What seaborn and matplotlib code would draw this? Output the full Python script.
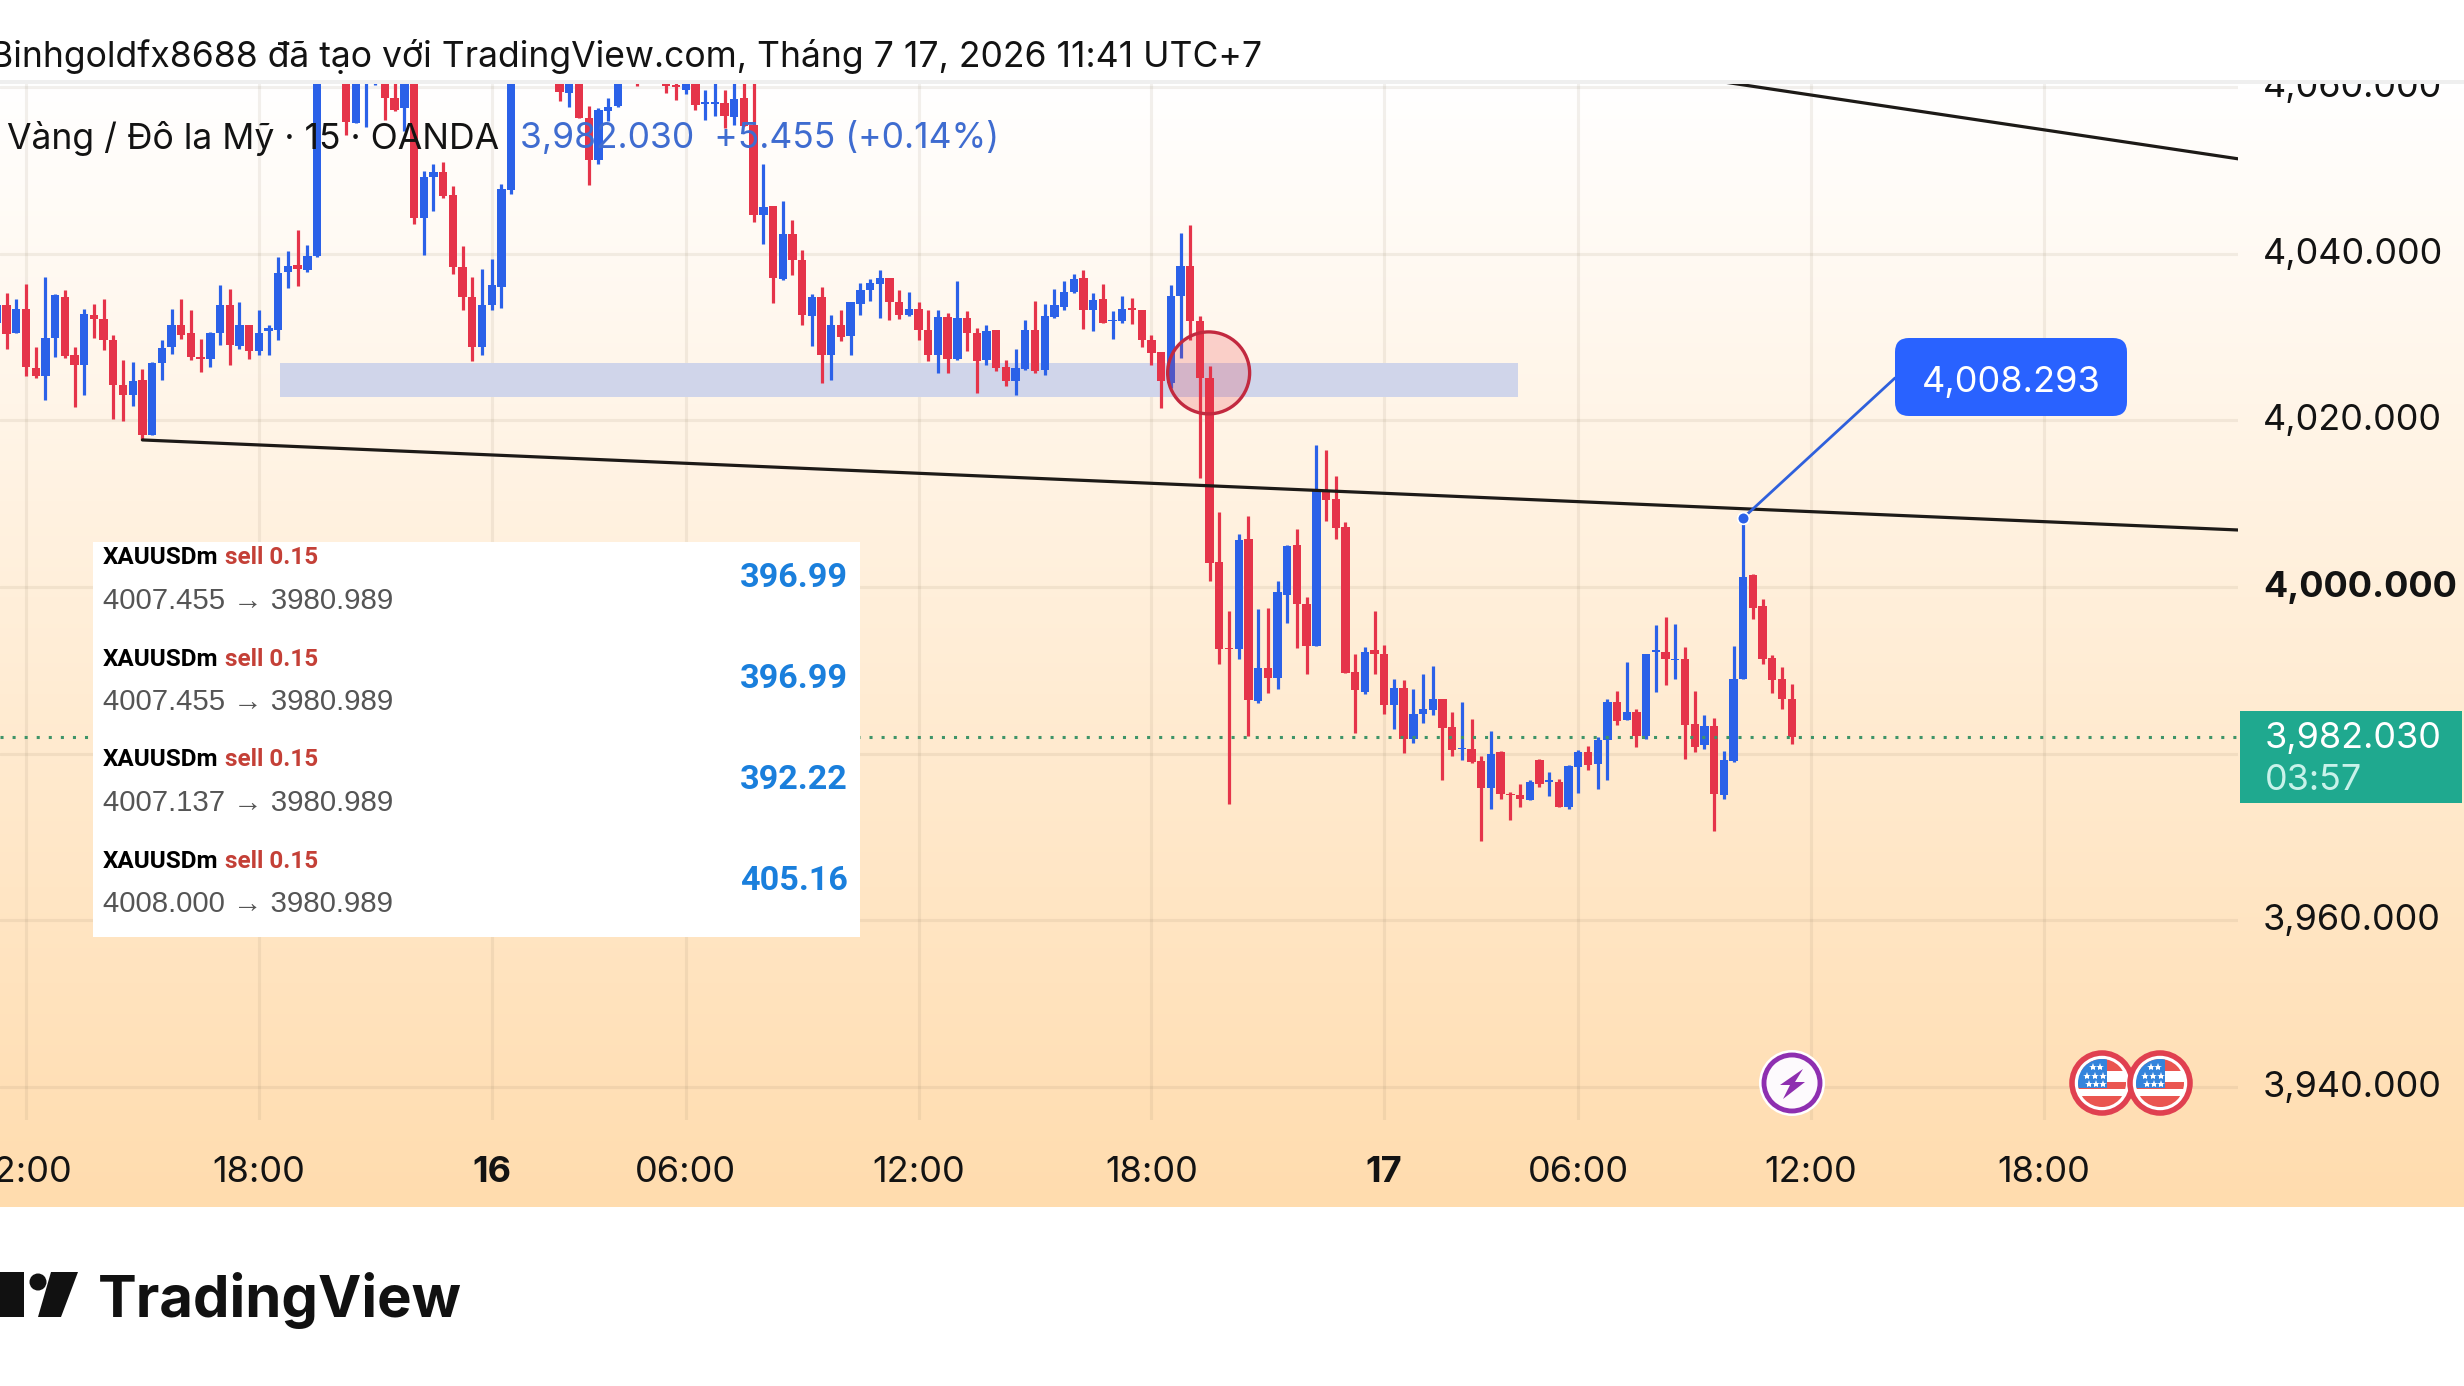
import numpy as np
import pandas as pd
import matplotlib
matplotlib.use("Agg")
import matplotlib.pyplot as plt
import seaborn as sns
from matplotlib.colors import LinearSegmentedColormap
from matplotlib.patches import Circle, Ellipse, FancyBboxPatch, Polygon, Rectangle
from matplotlib.transforms import ScaledTranslation

# 15 minute bars, XAUUSD (bars above the pane top are estimates)
highs = [
    4035.3, 4035.3, 4034.6, 4036.4, 4028.8, 4037.2, 4035.2, 4035.7, 4028.8, 4033.4,
    4034.0, 4034.6, 4030.2, 4027.3, 4027.0, 4026.2, 4027.0, 4029.6, 4033.4, 4034.6,
    4033.2, 4029.8, 4030.6, 4036.3, 4035.8, 4034.2, 4031.5, 4033.2, 4031.4, 4039.6,
    4040.3, 4042.9, 4041.1, 4070, 4075, 4076, 4071, 4071, 4067, 4068,
    4064, 4062, 4063, 4064, 4049.9, 4050.8, 4051.0, 4048.1, 4040.9, 4037.2,
    4038.2, 4039.4, 4048.4, 4063, 4066, 4070, 4070, 4068, 4063, 4063,
    4063, 4057.7, 4057.5, 4058.7, 4064, 4064, 4065, 4064, 4065, 4063,
    4062, 4062, 4061.5, 4059.7, 4062, 4059.6, 4062, 4062.5, 4062.5, 4050.8,
    4045.7, 4046.3, 4044.1, 4040.4, 4035.2, 4036.0, 4032.7, 4033.3, 4034.2, 4036.5,
    4037.0, 4038.1, 4037.1, 4035.7, 4035.4, 4034.2, 4033.3, 4033.3, 4032.9, 4036.7,
    4033.1, 4031.1, 4031.5, 4030.9, 4027.3, 4028.6, 4032.0, 4034.3, 4034.0, 4035.8,
    4036.7, 4037.6, 4038.1, 4035.3, 4036.4, 4033.1, 4034.9, 4034.7, 4033.3, 4030.3,
    4028.2, 4036.2, 4042.5, 4043.5, 4032.5, 4026.5, 4009.0, 3997.1, 4006.3, 4008.5,
    3997.3, 3997.5, 4000.7, 4005.0, 4006.9, 3998.8, 4017.1, 4016.5, 4013.3, 4007.8,
    3991.9, 3992.8, 3997.1, 3993.0, 3988.9, 3988.8, 3987.7, 3989.5, 3990.5, 3986.5,
    3985.0, 3986.2, 3984.1, 3979.7, 3982.7, 3980.3, 3975.4, 3976.4, 3976.8, 3979.3,
    3977.8, 3977.0, 3978.6, 3980.4, 3980.9, 3982.0, 3986.6, 3987.5, 3991.0, 3985.3,
    3992.0, 3995.4, 3996.4, 3995.6, 3992.8, 3987.5, 3984.6, 3984.3, 3980.3, 3992.9,
    4008.293, 4001.6, 3998.6, 3991.8, 3990.4, 3988.4,
]
body_tops = [
    4033.9, 4033.8, 4033.4, 4033.4, 4026.3, 4029.9, 4035.0, 4034.8, 4027.8, 4032.8,
    4032.7, 4032.2, 4029.7, 4024.2, 4024.7, 4024.9, 4026.9, 4028.7, 4031.5, 4031.5,
    4030.5, 4027.6, 4030.5, 4033.9, 4033.9, 4031.4, 4031.4, 4030.5, 4031.1, 4037.7,
    4038.5, 4038.6, 4039.7, 4069, 4074, 4074, 4070, 4070, 4066, 4066,
    4062.5, 4058.7, 4062.5, 4063, 4049.2, 4049.8, 4049.8, 4047.1, 4038.4, 4034.8,
    4033.9, 4036.2, 4047.8, 4062, 4065, 4068, 4068, 4066, 4062.5, 4062.5,
    4062, 4056.3, 4057.3, 4057.6, 4063, 4063, 4064, 4063, 4064, 4062,
    4060.3, 4060.5, 4060.5, 4058.2, 4058.2, 4058.1, 4058.6, 4058.7, 4055.4, 4045.6,
    4045.7, 4042.4, 4042.4, 4039.3, 4034.8, 4034.8, 4031.5, 4031.5, 4034.2, 4035.7,
    4036.5, 4037.1, 4037.1, 4034.2, 4033.4, 4033.4, 4030.9, 4032.4, 4032.4, 4032.3,
    4032.3, 4030.5, 4030.7, 4030.8, 4026.4, 4026.3, 4030.9, 4030.9, 4032.5, 4033.8,
    4035.4, 4037.0, 4037.1, 4034.5, 4034.6, 4032.1, 4033.4, 4033.5, 4033.3, 4029.7,
    4028.2, 4034.9, 4038.5, 4038.5, 4031.9, 4025.1, 4003.0, 3992.7, 4005.6, 4005.7,
    3990.3, 3990.3, 3999.4, 4004.9, 4005.0, 3997.9, 4011.7, 4011.7, 4010.5, 4007.2,
    3989.8, 3992.2, 3992.4, 3992.0, 3987.9, 3987.9, 3984.7, 3985.3, 3986.5, 3986.5,
    3983.2, 3980.7, 3980.5, 3979.1, 3980.0, 3980.2, 3975.2, 3975.0, 3976.6, 3979.2,
    3976.8, 3976.6, 3978.5, 3980.2, 3980.2, 3981.6, 3986.2, 3986.2, 3985.0, 3985.0,
    3992.0, 3992.4, 3992.2, 3991.4, 3991.3, 3983.6, 3983.3, 3983.3, 3979.2, 3988.9,
    4001.2, 4001.4, 3997.7, 3991.5, 3988.9, 3986.5,
]
body_bottoms = [
    4031.7, 4030.4, 4030.5, 4026.4, 4025.3, 4025.3, 4029.9, 4027.7, 4026.7, 4026.7,
    4032.2, 4029.6, 4024.2, 4023.1, 4023.1, 4018.2, 4018.2, 4026.9, 4028.8, 4030.3,
    4027.6, 4027.4, 4027.4, 4030.5, 4029.1, 4028.9, 4028.3, 4028.3, 4030.7, 4030.8,
    4037.8, 4038.2, 4038.1, 4039.7, 4068, 4070, 4055.8, 4055.7, 4062, 4062,
    4058.7, 4057.3, 4057.5, 4044.3, 4044.3, 4049.2, 4046.9, 4038.4, 4034.8, 4028.8,
    4028.8, 4033.9, 4036.0, 4047.6, 4061, 4064, 4065, 4063, 4059.4, 4059.3,
    4056.3, 4051.2, 4051.2, 4057.1, 4057.7, 4061.5, 4062, 4062, 4062, 4060.1,
    4060.0, 4059.6, 4057.9, 4058.0, 4058.0, 4056.5, 4056.4, 4055.3, 4044.6, 4044.6,
    4037.1, 4037.0, 4039.2, 4032.7, 4032.5, 4027.8, 4027.8, 4030.0, 4030.1, 4034.0,
    4035.6, 4036.4, 4034.2, 4032.7, 4032.7, 4030.9, 4027.9, 4027.9, 4027.4, 4027.4,
    4030.5, 4027.1, 4027.3, 4026.3, 4024.7, 4024.7, 4026.2, 4025.9, 4026.0, 4032.4,
    4033.6, 4035.4, 4033.3, 4033.3, 4031.7, 4031.9, 4031.9, 4033.2, 4029.6, 4028.1,
    4024.7, 4024.5, 4034.9, 4031.9, 4025.1, 4002.9, 3992.5, 3992.5, 3992.5, 3986.4,
    3986.3, 3989.1, 3989.1, 3999.0, 3997.9, 3992.9, 3992.9, 4010.4, 4007.1, 3989.7,
    3987.6, 3987.4, 3992.0, 3985.8, 3985.8, 3981.8, 3981.8, 3984.7, 3985.2, 3983.1,
    3980.4, 3980.5, 3979.0, 3975.9, 3975.9, 3975.2, 3975.0, 3974.5, 3974.4, 3976.3,
    3976.6, 3973.6, 3973.6, 3978.4, 3978.6, 3978.7, 3981.6, 3983.9, 3984.0, 3982.1,
    3982.1, 3992.2, 3991.3, 3991.2, 3983.4, 3980.8, 3981.0, 3975.1, 3975.0, 3979.1,
    3988.9, 3997.5, 3991.4, 3988.8, 3986.5, 3982.03,
]
lows = [
    4031.3, 4028.6, 4030.5, 4025.3, 4025.1, 4022.4, 4027.6, 4027.5, 4021.6, 4023.0,
    4029.9, 4028.4, 4020.2, 4019.9, 4021.7, 4017.6, 4018.2, 4024.9, 4028.0, 4029.8,
    4027.2, 4025.8, 4026.4, 4029.0, 4026.7, 4028.6, 4027.4, 4027.9, 4027.9, 4029.6,
    4035.9, 4036.1, 4037.8, 4039.6, 4066, 4068, 4054.2, 4055.7, 4055.2, 4060.3,
    4056.1, 4057.1, 4054.7, 4043.6, 4039.8, 4045.1, 4046.7, 4037.6, 4033.2, 4027.1,
    4027.8, 4033.2, 4033.5, 4047.2, 4060.6, 4062, 4063, 4061.5, 4058.3, 4057.6,
    4056.3, 4048.2, 4050.8, 4055.9, 4057.6, 4060.6, 4060.1, 4060.7, 4061, 4059.3,
    4058.4, 4059.2, 4057.3, 4056.0, 4056.5, 4055.1, 4055.4, 4055.3, 4043.8, 4041.2,
    4034.1, 4036.9, 4037.5, 4031.5, 4028.9, 4024.5, 4024.9, 4029.5, 4027.9, 4032.6,
    4034.3, 4032.3, 4032.1, 4032.2, 4032.5, 4029.6, 4027.1, 4025.7, 4025.7, 4027.2,
    4028.3, 4023.3, 4026.7, 4025.9, 4024.1, 4023.1, 4026.1, 4025.7, 4025.5, 4032.3,
    4033.3, 4035.3, 4031.0, 4030.7, 4031.7, 4029.8, 4031.7, 4031.6, 4028.8, 4026.7,
    4021.5, 4023.9, 4027.5, 4029.7, 4013.1, 4000.7, 3990.7, 3973.9, 3991.4, 3982.1,
    3986.1, 3987.3, 3987.8, 3995.7, 3992.7, 3989.6, 3992.9, 4007.9, 4005.7, 3989.7,
    3982.5, 3987.2, 3989.5, 3984.7, 3983.0, 3980.1, 3981.3, 3983.7, 3984.6, 3976.8,
    3979.7, 3979.2, 3978.9, 3969.5, 3973.3, 3974.6, 3972.0, 3973.6, 3974.4, 3976.0,
    3974.9, 3973.6, 3973.4, 3975.3, 3978.0, 3975.8, 3976.8, 3983.4, 3984.0, 3980.8,
    3981.8, 3987.4, 3988.2, 3989.0, 3979.4, 3980.2, 3980.5, 3970.7, 3974.6, 3979.0,
    3988.9, 3996.1, 3990.8, 3987.3, 3985.3, 3981.2,
]
directions = list(
    "BRBRRBBRRB" "RRRRBRBBBR" "RRBBRBRBBB" "BRBBBRRBBB" "RRBRBBRRRR"
    "BBBBRBRRRB" "RRBBBBRBRR" "RBRBBRBRRB" "RBRRBRBRBB" "BBRRBRRBRB"
    "RRBRRBBRBB" "BBRBRBBRRR" "RBBRRRRRBR" "BRBBRRBRRR" "RBRRBRBBBR"
    "RBRRBRRRBR" "BRBBRBBRBR" "BBRBRRBRBB" "BRRRRR"
)
bar_numbers = list(range(-1, 185))

time_ticks = [2, 26, 50, 70, 94, 118, 142, 162, 186, 210]
time_labels = ["12:00", "18:00", "16", "06:00", "12:00", "18:00", "17", "06:00", "12:00", "18:00"]
bold_times = ["16", "17"]
price_ticks = [3940, 3960, 3980, 4000, 4020, 4040, 4060]
price_labels = ["3,940.000", "3,960.000", "", "4,000.000", "4,020.000", "4,040.000", "4,060.000"]

last_price = 3982.03
callout_price = 4008.293
callout_bar = 179
zone_bars = [28.2, 155.8]
zone_prices = [4022.86, 4026.86]
support_bars = [14, 230]
support_prices = [4017.65, 4006.84]
upper_bars = [175.4, 230]
upper_prices = [4060.9, 4051.4]

trade_lines = ["4007.455 → 3980.989", "4007.455 → 3980.989", "4007.137 → 3980.989", "4008.000 → 3980.989"]
trade_profits = ["396.99", "396.99", "392.22", "405.16"]

RED = "#e5344a"
BLUE = "#2b61e8"
FONT = "Inter"

sns.set_theme(style="white")
plt.rcParams["font.family"] = [FONT, "DejaVu Sans"]
plt.rcParams["text.color"] = "#131313"

fig = plt.figure(figsize=(24.64, 13.86), dpi=100, facecolor="white")
W, H = 2464, 1386

# background gradient
bg = fig.add_axes([0, (H - 1207) / H, 1, (1207 - 84) / H], zorder=0)
cmap = LinearSegmentedColormap.from_list("tv", ["#ffffff", "#ffdcae"])
bg.imshow(np.linspace(0, 1, 256).reshape(-1, 1), aspect="auto", cmap=cmap)
bg.axis("off")

ax = fig.add_axes([0, (H - 1120) / H, 2238 / W, (1120 - 84) / H], zorder=1)
ax.patch.set_alpha(0)

candles = pd.DataFrame({
    "bar": bar_numbers, "high": highs, "low": lows,
    "top": body_tops, "bottom": body_bottoms, "dir": directions,
})
candles["body"] = candles["top"] - candles["bottom"]

ax.fill_between(zone_bars, zone_prices[0], zone_prices[1], color="#d0d5ea", lw=0, zorder=1.5)

for code, color in [("B", BLUE), ("R", RED)]:
    part = candles[candles["dir"] == code]
    ax.vlines(part["bar"], part["low"], part["high"], color=color, lw=2.3, zorder=2)
    sns.barplot(data=part, x="bar", y="body", bottom=part["bottom"].values, native_scale=True,
                color=color, saturation=1, width=0.86, errorbar=None, linewidth=0, zorder=2.1, ax=ax)

lines = pd.DataFrame({
    "bar": support_bars + upper_bars,
    "price": support_prices + upper_prices,
    "name": ["support", "support", "upper", "upper"],
})
sns.lineplot(data=lines, x="bar", y="price", units="name", estimator=None, color="#1d1a17",
             linewidth=2.3, sort=False, zorder=3, ax=ax)

ax.axhline(last_price, color="#3f9468", lw=2.2, ls=(0, (1, 2.95)), zorder=2.5)
ax.add_patch(Ellipse((123.9, 4025.7), 8.45, 9.84, facecolor=(0.91, 0.2, 0.25, 0.2),
                     edgecolor="#c2293f", lw=2.4, zorder=3.5))

# callout line and dot
ax.annotate("", xy=(callout_bar, callout_price), xytext=(1895, H - 378), textcoords="figure pixels",
            arrowprops=dict(arrowstyle="-", color="#2f60dc", lw=2.0, shrinkA=0, shrinkB=0), zorder=4)
sns.scatterplot(x=[callout_bar], y=[callout_price], color=BLUE, s=70, edgecolor="white",
                linewidth=1.2, zorder=5, clip_on=False, ax=ax)

ax.set_xlim(-0.68, 230.0)
ax.set_ylim(3936.01, 4060.38)
ax.set_xlabel("")
ax.set_ylabel("")
ax.set_xticks(time_ticks)
ax.set_xticklabels(time_labels)
ax.set_yticks(price_ticks)
ax.set_yticklabels(price_labels)
ax.yaxis.tick_right()
ax.tick_params(axis="x", length=0, pad=26, labelsize=26, labelcolor="#131313")
ax.tick_params(axis="y", length=0, pad=18, labelsize=25.9, labelcolor="#131313")
for lab in ax.get_xticklabels():
    if lab.get_text() in bold_times:
        lab.set_fontweight("bold")
up3 = ScaledTranslation(0, 3 / 100, fig.dpi_scale_trans)
for lab in ax.get_yticklabels():
    lab.set_transform(lab.get_transform() + up3)
    if lab.get_text() == "4,000.000":
        lab.set_fontweight("bold")
ax.grid(True, color="#8a7a60", alpha=0.11, lw=2.2)
ax.set_axisbelow(True)
sns.despine(ax=ax, left=True, bottom=True, right=True, top=True)

# overlay in figure pixels for the non-data furniture
ov = fig.add_axes([0, 0, 1, 1], zorder=2)
ov.set_xlim(0, W)
ov.set_ylim(H, 0)
ov.axis("off")

ov.add_patch(Rectangle((0, 0), W, 84, color="white", lw=0))
ov.add_patch(Rectangle((0, 80), W, 4, color="#efefef", lw=0))
ov.text(1262, 56, "Binhgoldfx8688 đã tạo với TradingView.com, Tháng 7 17, 2026 11:41 UTC+7",
        ha="right", va="center", fontsize=25.6, color="#131313")
ov.text(7, 138, "Vàng / Đô la Mỹ · 15 · OANDA", ha="left", va="center", fontsize=25.6, color="#131313")
ov.text(520, 138, "3,982.030  +5.455 (+0.14%)", ha="left", va="center", fontsize=25.5, color="#3f6cd0")

# trades panel
ov.add_patch(Rectangle((93, 542), 767, 395, color="white", lw=0))
for i in range(4):
    dy = 101 * i
    ov.text(103, 558 + dy, "XAUUSDm", family="Roboto", weight="bold", fontsize=17.5, color="black", va="center")
    ov.text(225, 558 + dy, "sell 0.15", family="Roboto", weight="bold", fontsize=17.5, color="#c44037", va="center")
    ov.text(103, 601 + dy, trade_lines[i], family=["Liberation Sans", "DejaVu Sans"], fontsize=21.2,
            color="#555555", va="center")
    ov.text(848, 578 + dy, trade_profits[i], family="Roboto", weight="bold", fontsize=24.6, color="#1a7fdc",
            ha="right", va="center")

# callout box
ov.add_patch(FancyBboxPatch((1905, 348), 212, 58, boxstyle="round,pad=10,rounding_size=14",
                            facecolor="#2962ff", edgecolor="none"))
ov.text(2011, 382, "4,008.293", color="white", fontsize=26, ha="center", va="center")

# last price tag
ov.add_patch(Rectangle((2240, 711), 222, 92, color="#1fa98f", lw=0))
ov.text(2265, 738, "3,982.030", color="white", fontsize=25.9, va="center")
ov.text(2265, 780, "03:57", color="#c8f2ea", fontsize=25.9, va="center")

# event icons
ov.add_patch(Circle((1792, 1083), 33, facecolor="white", edgecolor="none"))
ov.add_patch(Circle((1792, 1083), 28, facecolor="#fdfafd", edgecolor="#8e2fb0", lw=3.5))
ov.add_patch(Polygon([(1803, 1069), (1780, 1085), (1790, 1085), (1783, 1099),
                      (1805, 1082), (1795, 1082)], color="#8e2fb0", lw=0))
for cx in [2102, 2160]:
    ring = Circle((cx, 1083), 30, facecolor="white", edgecolor="#e04050", lw=4, zorder=3)
    ov.add_patch(ring)
    clip = Circle((cx, 1083), 24, transform=ov.transData)
    for x0, y0, w, h, c in [(-24, -24, 48, 12, "#ea5550"), (-24, -1, 48, 7, "#ea5550"),
                            (-24, 13, 48, 12, "#ea5550"), (-24, -24, 29, 29, "#3484dc")]:
        r = Rectangle((cx + x0, 1083 + y0), w, h, color=c, lw=0, zorder=4)
        ov.add_patch(r)
        r.set_clip_path(clip)
    for sx, sy in [(-9, -16), (-2, -16), (-15, -7), (-7, -7), (1, -7), (-13, 1), (-6, 1), (1, 1)]:
        ov.plot(cx + sx, 1083 + sy, marker="*", ms=6, color="white", mew=0, zorder=5)

# logo
ov.add_patch(Rectangle((0, 1272), 24, 45, color="#111111", lw=0))
ov.add_patch(Circle((38, 1282), 8.5, color="#111111", lw=0))
ov.add_patch(Polygon([(51, 1272), (78, 1272), (61, 1317), (38, 1317)], color="#111111", lw=0))
ov.text(98, 1317, "TradingView", fontsize=41.8, weight="bold", color="#111111", va="baseline")

fig.savefig("out.png", dpi=100)
plt.close(fig)
